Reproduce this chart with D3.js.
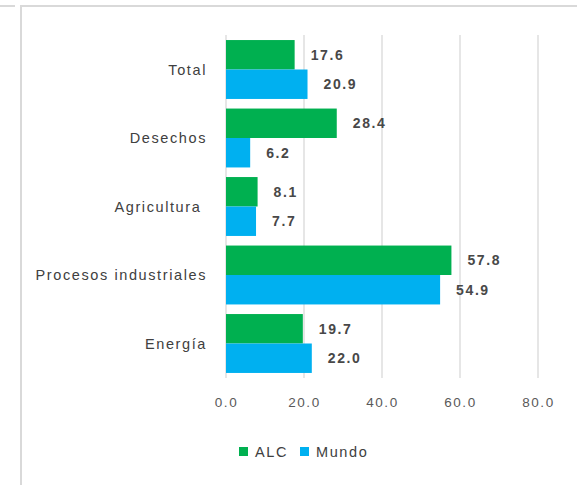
<!DOCTYPE html>
<html><head><meta charset="utf-8">
<script src="https://cdn.jsdelivr.net/npm/d3@7"></script>
<style>body{margin:0;background:#fff}svg{display:block}text{white-space:pre}</style>
</head><body>
<script>
const categories = ["Total","Desechos","Agricultura ","Procesos industriales","Energía"];
const seriesNames = ["ALC","Mundo"];
const alcValues = [17.6, 28.4, 8.1, 57.8, 19.7];
const mundoValues = [20.9, 6.2, 7.7, 54.9, 22.0];
const xTicks = [0, 20, 40, 60, 80];
const colors = {ALC:"#00B050", Mundo:"#00B0F0"};

const W = 585, H = 485;
const svg = d3.select("body").append("svg").attr("width", W).attr("height", H);
const font = "'Liberation Sans', Arial, sans-serif";

// frame
svg.append("line").attr("x1",0).attr("x2",15).attr("y1",6).attr("y2",6).attr("stroke","#d9d9d9").attr("stroke-width",2);
svg.append("line").attr("x1",20).attr("x2",577).attr("y1",6).attr("y2",6).attr("stroke","#d9d9d9").attr("stroke-width",2);
svg.append("line").attr("x1",21).attr("x2",21).attr("y1",6).attr("y2",H).attr("stroke","#d9d9d9").attr("stroke-width",2);

const x = d3.scaleLinear().domain([0,80]).range([226,538]);
const y = d3.scaleBand().domain(categories).range([35.25,377.75]).paddingInner(0.14).paddingOuter(0.07);
const ys = d3.scaleBand().domain(seriesNames).range([0, y.bandwidth()]);

// gridlines
svg.append("g").selectAll("line").data(xTicks).join("line")
  .attr("x1", d=>x(d)).attr("x2", d=>x(d)).attr("y1",35).attr("y2",378)
  .attr("stroke","#d9d9d9").attr("stroke-width",1.3);

const data = categories.map((c,i)=>({cat:c, ALC:alcValues[i], Mundo:mundoValues[i]}));

const g = svg.append("g");
data.forEach(d=>{
  seriesNames.forEach(s=>{
    g.append("rect").attr("x", x(0)).attr("y", y(d.cat)+ys(s))
      .attr("width", x(d[s])-x(0)).attr("height", ys.bandwidth())
      .attr("fill", colors[s]);
    g.append("text").attr("x", x(d[s])+16).attr("y", y(d.cat)+ys(s)+ys.bandwidth()/2)
      .attr("dy","0.36em").attr("font-family",font).attr("font-size",14)
      .attr("letter-spacing","1.6px").attr("font-weight","bold")
      .attr("fill","#484848").text(d[s].toFixed(1));
  });
});

// category labels
svg.append("g").selectAll("text").data(categories).join("text")
  .attr("x", 207).attr("y", d=>y(d)+y.bandwidth()/2).attr("dy","0.36em")
  .attr("text-anchor","end").attr("font-family",font).attr("font-size",14.5)
  .attr("letter-spacing","1.6px").attr("fill","#404040").text(d=>d);

// x axis
const xAxis = d3.axisBottom(x).tickValues(xTicks).tickFormat(d3.format(".1f")).tickSize(0).tickPadding(0);
const ax = svg.append("g").attr("transform","translate(0,397)").call(xAxis);
ax.select(".domain").remove();
ax.selectAll("text").attr("font-family",font).attr("font-size",13.5).attr("letter-spacing","1.6px").attr("fill","#595959");

// legend
const leg = svg.append("g");
const legX = {ALC:239, Mundo:300};
seriesNames.forEach(s=>{
  leg.append("rect").attr("x",legX[s]).attr("y",447).attr("width",9).attr("height",9).attr("fill",colors[s]);
  leg.append("text").attr("x",legX[s]+16).attr("y",451.5).attr("dy","0.36em")
    .attr("font-family",font).attr("font-size",14.5).attr("letter-spacing","1.6px").attr("fill","#404040").text(s);
});
</script>
</body></html>
